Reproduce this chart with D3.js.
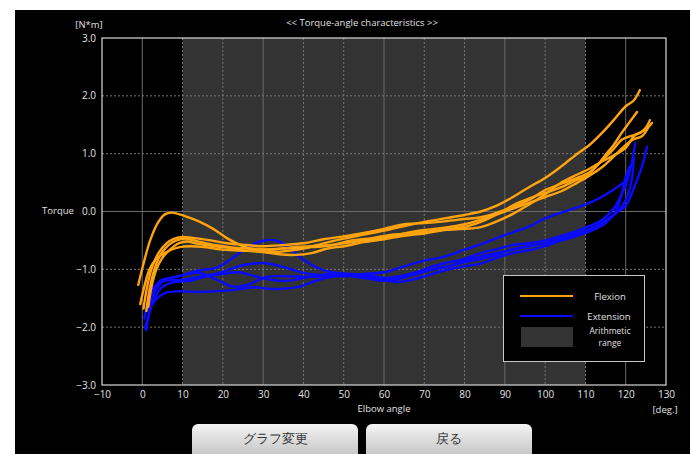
<!DOCTYPE html>
<html><head><meta charset="utf-8">
<script src="https://cdn.jsdelivr.net/npm/d3@7"></script>
<style>
html,body{margin:0;padding:0;background:#fff;}
svg{display:block;}
text{font-family:"Open Sans","DejaVu Sans",sans-serif;}
</style></head><body>
<script>
// ---- data ----
const title = "<< Torque-angle characteristics >>";
const xTicks = [-10,0,10,20,30,40,50,60,70,80,90,100,110,120,130];
const yTicks = [-3,-2,-1,0,1,2,3];
const xSolid = [0,30,60,90,120];
const ySolid = [0];
const arithmeticRange = [10,110];
const buttonLabels = ["グラフ変更","戻る"];

const flexion1 = [[-1,-1.27],[0.2,-0.93],[2,-0.49],[4,-0.18],[5.6,-0.05],[7.4,-0.02],[10.6,-0.08],[14.3,-0.18],[17.6,-0.3],[21,-0.46],[24,-0.57],[27.5,-0.66],[32,-0.7],[36,-0.68],[40,-0.64],[45,-0.55],[50,-0.47],[55,-0.4],[60,-0.33],[65,-0.25],[70,-0.18],[75,-0.12],[80,-0.06],[84,0.0],[88,0.1],[92,0.25],[96,0.42],[100,0.58],[104,0.78],[108,1.0],[111,1.15],[114,1.35],[117,1.58],[120,1.82],[122,1.92],[123.5,2.1]];
const flexion2 = [[0.3,-1.68],[1.2,-1.3],[2.5,-0.95],[4,-0.72],[6,-0.55],[8,-0.47],[10,-0.44],[13,-0.46],[17,-0.5],[21,-0.55],[26,-0.58],[30,-0.6],[35,-0.58],[40,-0.55],[45,-0.48],[50,-0.43],[55,-0.37],[60,-0.3],[65,-0.22],[70,-0.2],[75,-0.17],[80,-0.13],[84,-0.1],[88,-0.02],[92,0.08],[96,0.2],[100,0.37],[104,0.48],[108,0.58],[111,0.68],[113,0.8],[115,0.98],[117,1.15],[119,1.36],[121,1.55],[122.8,1.72]];
const flexion3 = [[1,-1.72],[1.8,-1.35],[3,-1.0],[4.5,-0.75],[6.5,-0.58],[8.5,-0.5],[11,-0.47],[14,-0.52],[18,-0.58],[22,-0.62],[27,-0.64],[32,-0.66],[37,-0.62],[42,-0.6],[47,-0.58],[52,-0.5],[57,-0.46],[62,-0.4],[67,-0.38],[72,-0.34],[77,-0.3],[81,-0.25],[84,-0.18],[88,-0.05],[93,0.14],[97,0.25],[100,0.32],[104,0.42],[108,0.55],[110,0.6],[113,0.8],[115,0.94],[117,1.08],[119,1.24],[121,1.3],[123.5,1.36],[125,1.45],[126,1.58]];
const flexion4 = [[1.5,-1.65],[2.3,-1.3],[3.5,-1.0],[5,-0.8],[7,-0.65],[9,-0.55],[11,-0.52],[14,-0.56],[18,-0.6],[22,-0.63],[26,-0.68],[30,-0.7],[34,-0.74],[38,-0.75],[42,-0.72],[46,-0.64],[50,-0.6],[55,-0.53],[60,-0.48],[65,-0.42],[70,-0.38],[75,-0.32],[80,-0.3],[84,-0.27],[88,-0.17],[92,-0.04],[96,0.12],[100,0.3],[104,0.5],[108,0.64],[111,0.74],[114,0.86],[117,0.97],[120,1.1],[122,1.3],[124,1.38],[125.5,1.45],[126.5,1.53]];
const flexion5 = [[-0.5,-1.6],[0.5,-1.3],[1.8,-1.0],[3.5,-0.82],[6,-0.7],[9,-0.62],[12,-0.6],[16,-0.62],[20,-0.66],[25,-0.68],[30,-0.66],[35,-0.64],[40,-0.62],[45,-0.6],[50,-0.55],[55,-0.5],[60,-0.45],[65,-0.38],[70,-0.32],[75,-0.28],[80,-0.22],[84,-0.14],[88,-0.05],[92,0.05],[96,0.15],[100,0.25],[104,0.35],[108,0.5],[111,0.62],[114,0.76],[117,0.95],[120,1.15],[122,1.25],[124,1.3],[125.5,1.44]];

const extension1 = [[0.7,-2.02],[1.5,-1.8],[2.5,-1.6],[4,-1.48],[6,-1.4],[9,-1.38],[14,-1.39],[18,-1.38],[22.5,-1.36],[27.5,-1.31],[32,-1.34],[36,-1.33],[39,-1.3],[43,-1.2],[47,-1.13],[52,-1.1],[56,-1.12],[60,-1.18],[63,-1.22],[67,-1.18],[71,-1.1],[75,-1.02],[80,-0.95],[84,-0.9],[88,-0.8],[92,-0.72],[96,-0.67],[100,-0.6],[104,-0.5],[108,-0.4],[112,-0.28],[115,-0.17],[118,0.0],[120,0.2],[121.5,0.55],[122,0.94]];
const extension2 = [[1.2,-1.72],[2.5,-1.4],[4.4,-1.2],[8.6,-1.13],[14,-1.02],[18.5,-0.97],[22.5,-0.8],[26.5,-0.6],[30.5,-0.5],[33,-0.5],[36,-0.6],[39,-0.78],[43,-0.96],[47,-1.05],[52,-1.08],[56,-1.1],[60,-1.15],[64,-1.12],[68,-1.05],[72,-0.95],[76,-0.88],[80,-0.82],[84,-0.72],[88,-0.65],[92,-0.58],[96,-0.55],[100,-0.5],[104,-0.42],[108,-0.33],[111,-0.25],[114,-0.15],[117,0.05],[119,0.3],[120.5,0.55],[121,0.77]];
const extension3 = [[0.5,-1.85],[1.5,-1.55],[3,-1.3],[5.5,-1.2],[10,-1.18],[14,-1.13],[19,-1.06],[25,-0.93],[30,-0.89],[35,-0.96],[40,-1.06],[45,-1.1],[50,-1.12],[55,-1.08],[60,-1.05],[65,-0.95],[70,-0.85],[75,-0.78],[80,-0.66],[84,-0.57],[88,-0.46],[92,-0.36],[96,-0.26],[100,-0.12],[104,-0.02],[108,0.07],[111,0.15],[114,0.25],[117,0.38],[120,0.54],[121.5,0.84],[122.3,1.18]];
const extension4 = [[2,-1.65],[3,-1.4],[5.2,-1.2],[10,-1.1],[14,-1.06],[18.5,-1.18],[22.5,-1.3],[26,-1.27],[31,-1.13],[36,-1.12],[41,-1.13],[46,-1.12],[51,-1.1],[56,-1.15],[61,-1.2],[66,-1.12],[71,-1.02],[76,-0.95],[80,-0.85],[84,-0.78],[88,-0.72],[92,-0.66],[96,-0.6],[100,-0.55],[104,-0.46],[108,-0.38],[111,-0.3],[114,-0.2],[117,-0.05],[120,0.1],[122,0.4],[124,0.77],[125.3,1.12]];
const extension5 = [[1,-2.05],[1.8,-1.75],[3,-1.5],[5,-1.3],[8,-1.22],[12,-1.2],[16,-1.12],[20,-1.08],[24,-1.05],[28,-1.12],[32,-1.18],[36,-1.2],[40,-1.15],[44,-1.1],[48,-1.08],[52,-1.12],[56,-1.16],[60,-1.2],[64,-1.15],[68,-1.08],[72,-1.0],[76,-0.95],[80,-0.88],[84,-0.82],[88,-0.75],[92,-0.65],[96,-0.6],[100,-0.55],[104,-0.5],[108,-0.42],[112,-0.32],[115,-0.2],[117.5,0.0],[119,0.3],[120,0.6],[121,0.77]];

const flexionSeries = [flexion1, flexion2, flexion3, flexion4, flexion5];
const extensionSeries = [extension1, extension2, extension3, extension4, extension5];
const legendItems = ["Flexion","Extension","Arithmetic|range"];

// ---- drawing ----
const W = 690, H = 454;
const svg = d3.select("body").append("svg").attr("width", W).attr("height", H);
svg.append("rect").attr("x",15).attr("y",10).attr("width",W-15).attr("height",H-10).attr("fill","#000");

const pL = 102, pR = 666, pT = 38, pB = 385;
const x = d3.scaleLinear().domain([-10,130]).range([pL,pR]);
const y = d3.scaleLinear().domain([-3,3]).range([pB,pT]);

// arithmetic range
svg.append("rect").attr("x",x(arithmeticRange[0])).attr("y",pT)
  .attr("width",x(arithmeticRange[1])-x(arithmeticRange[0])).attr("height",pB-pT)
  .attr("fill","#333333");

// grid
const grid = svg.append("g");
xTicks.filter(t=>t>-10 && t<130).forEach(t=>{
  const solid = xSolid.includes(t);
  grid.append("line").attr("x1",x(t)).attr("x2",x(t)).attr("y1",pT).attr("y2",pB)
    .attr("stroke", solid ? "#6a6a6a" : "#777").attr("stroke-width",1)
    .attr("stroke-dasharray", solid ? null : "2,2");
});
yTicks.filter(t=>t>-3 && t<3).forEach(t=>{
  const solid = ySolid.includes(t);
  grid.append("line").attr("x1",pL).attr("x2",pR).attr("y1",y(t)).attr("y2",y(t))
    .attr("stroke", solid ? "#6a6a6a" : "#777").attr("stroke-width",1)
    .attr("stroke-dasharray", solid ? null : "2,2");
});

// frame
svg.append("rect").attr("x",pL).attr("y",pT).attr("width",pR-pL).attr("height",pB-pT)
  .attr("fill","none").attr("stroke","#d8d8d8").attr("stroke-width",1.2);

// axes labels
const xAxis = d3.axisBottom(x).tickValues(xTicks).tickSize(0).tickFormat(d3.format("d"));
const gx = svg.append("g").attr("transform",`translate(0,${pB})`).call(xAxis);
gx.select(".domain").remove();
gx.selectAll("text").attr("fill","#e0e0e0").attr("font-size",10).attr("dy","0.95em").attr("y",3);

const yAxis = d3.axisLeft(y).tickValues(yTicks).tickSize(0).tickFormat(d3.format(".1f"));
const gy = svg.append("g").attr("transform",`translate(${pL},0)`).call(yAxis);
gy.select(".domain").remove();
gy.selectAll("text").attr("fill","#e0e0e0").attr("font-size",10).attr("x",-6).attr("dy","0.3em");

const txt = (t,xx,yy,anchor,size)=>svg.append("text").attr("x",xx).attr("y",yy)
  .attr("text-anchor",anchor||"start").attr("font-size",size||10).attr("fill","#e0e0e0").text(t);
txt(title, 362, 26, "middle", 9.5);
txt("[N*m]", 89, 28, "middle", 9.5);
txt("Torque", 58, 214, "middle", 9.5);
txt("Elbow angle", 384, 412, "middle", 9.5);
txt("[deg.]", 665, 413, "middle", 9.5);

// curves
const line = d3.line().x(d=>x(d[0])).y(d=>y(d[1])).curve(d3.curveCatmullRom.alpha(0.5));
const curves = svg.append("g").attr("fill","none").attr("stroke-width",2.4)
  .attr("stroke-linejoin","round").attr("stroke-linecap","round");
extensionSeries.forEach(s=>curves.append("path").attr("d",line(s)).attr("stroke","#0a0aff"));
flexionSeries.forEach(s=>curves.append("path").attr("d",line(s)).attr("stroke","#ffa30f"));

// legend
const lg = svg.append("g");
lg.append("rect").attr("x",503.5).attr("y",275.5).attr("width",141).attr("height",86)
  .attr("fill","#000").attr("stroke","#c8c8c8").attr("stroke-width",1);
lg.append("line").attr("x1",520).attr("x2",573).attr("y1",296).attr("y2",296).attr("stroke","#ffa30f").attr("stroke-width",2);
lg.append("line").attr("x1",520).attr("x2",573).attr("y1",316).attr("y2",316).attr("stroke","#0a0aff").attr("stroke-width",2);
lg.append("rect").attr("x",521).attr("y",327).attr("width",52).attr("height",20).attr("fill","#333333");
const lt = (t,xx,yy,fs)=>lg.append("text").attr("x",xx).attr("y",yy).attr("text-anchor","middle")
  .attr("font-size",fs||9.5).attr("fill","#e0e0e0").text(t);
lt(legendItems[0], 610, 300);
lt(legendItems[1], 609, 320);
lt(legendItems[2].split("|")[0], 610, 333.5, 8.5);
lt(legendItems[2].split("|")[1], 610, 345.5, 8.5);

// buttons
const defs = svg.append("defs");
const grad = defs.append("linearGradient").attr("id","btn").attr("x1",0).attr("x2",0).attr("y1",0).attr("y2",1);
grad.append("stop").attr("offset","0%").attr("stop-color","#f4f4f4");
grad.append("stop").attr("offset","100%").attr("stop-color","#b9b9b9");
const btnX = [192, 366];
buttonLabels.forEach((b,i)=>{
  svg.append("rect").attr("x",btnX[i]).attr("y",424).attr("width",166).attr("height",40)
    .attr("rx",6).attr("fill","url(#btn)");
  svg.append("text").attr("x",btnX[i]+83).attr("y",443).attr("text-anchor","middle")
    .attr("font-size",13).attr("fill","#333")
    .attr("font-family","'Noto Sans CJK JP',sans-serif").text(b);
});
</script>
</body></html>
